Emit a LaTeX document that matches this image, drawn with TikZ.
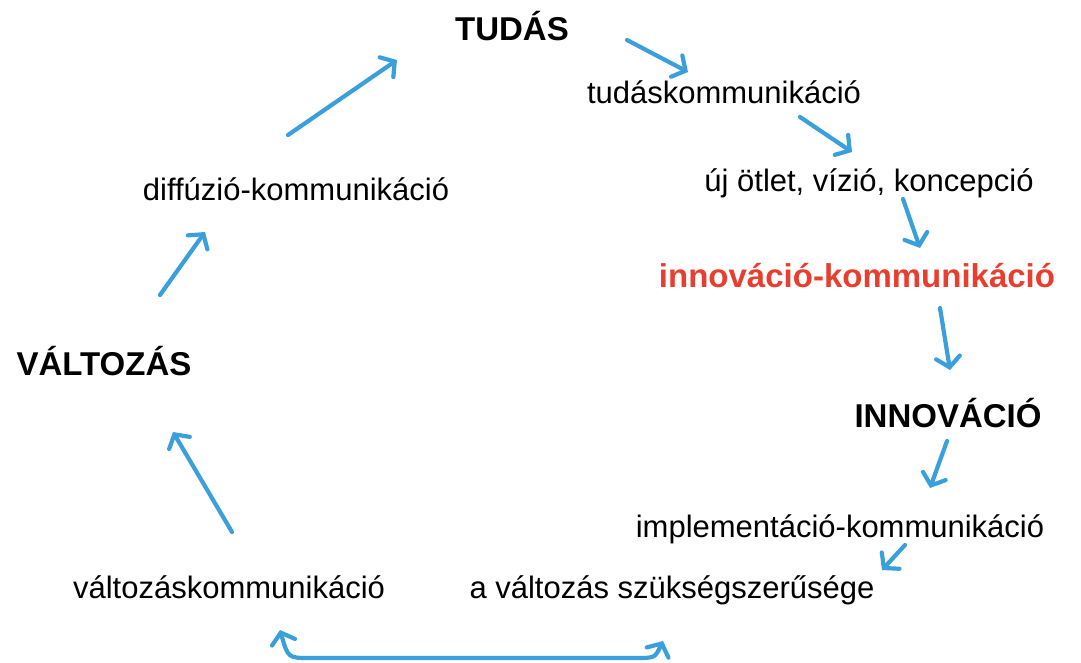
\documentclass[tikz,border=0pt]{standalone}
\usepackage{fontspec}
\setmainfont{Liberation Sans}
\usepackage{xcolor}
\usetikzlibrary{arrows.meta}

\definecolor{arrowblue}{RGB}{58,160,220}
\definecolor{innored}{RGB}{232,62,48}

\begin{document}
\begin{tikzpicture}[
    x=1pt, y=-1pt,
    label text/.style={anchor=base, inner sep=0pt, font=\fontsize{31}{36}\selectfont},
    key text/.style={anchor=base, inner sep=0pt, font=\fontsize{33}{38}\selectfont\bfseries},
    flow/.style={draw=arrowblue, line width=4.2pt, line cap=round,
        -{Straight Barb[length=10pt, width=24pt, line cap=round]}},
    both flow/.style={draw=arrowblue, line width=4.2pt, line cap=round,
        {Straight Barb[length=10pt, width=24pt, line cap=round]}-{Straight Barb[length=10pt, width=24pt, line cap=round]}}
]
\useasboundingbox (0,0) rectangle (1081,662);

\node[key text] (tudas) at (512,40) {TUDÁS};
\node[label text] (tudaskomm) at (724,103) {tudáskommunikáció};
\node[label text] (otlet) at (869,191) {új ötlet, vízió, koncepció};
\node[key text, text=innored] (innokomm) at (857,287) {innováció-kommunikáció};
\node[key text] (innovacio) at (948,427) {INNOVÁCIÓ};
\node[label text] (implkomm) at (840,537) {implementáció-kommunikáció};
\node[label text] (szukseg) at (672,598) {a változás szükségszerűsége};
\node[label text] (valtkomm) at (229,598) {változáskommunikáció};
\node[key text] (valtozas) at (104,375) {VÁLTOZÁS};
\node[label text] (diffkomm) at (296,200) {diffúzió-kommunikáció};

% arrow ends
\coordinate (a1) at (627,40);  \coordinate (b1) at (688,72);
\coordinate (a2) at (800,117); \coordinate (b2) at (852,152);
\coordinate (a3) at (903,199); \coordinate (b3) at (920,248);
\coordinate (a4) at (940,308); \coordinate (b4) at (950,370);
\coordinate (a5) at (947,441); \coordinate (b5) at (930,488);
\coordinate (a6) at (905,545); \coordinate (b6) at (882,570);
\coordinate (a7) at (232,532); \coordinate (b7) at (173,432);
\coordinate (a8) at (160,295); \coordinate (b8) at (205,232);
\coordinate (a9) at (288,135); \coordinate (b9) at (397,60);
\coordinate (left end) at (280,630);
\coordinate (right end) at (663,641);

\draw[flow] (a1) -- (b1);
\draw[flow] (a2) -- (b2);
\draw[flow] (a3) -- (b3);
\draw[flow] (a4) -- (b4);
\draw[flow] (a5) -- (b5);
\draw[flow] (a6) -- (b6);
\draw[flow] (a7) -- (b7);
\draw[flow] (a8) -- (b8);
\draw[flow] (a9) -- (b9);
\draw[both flow] (left end) .. controls (288,658) .. (310,658)
    -- (635,658) .. controls (655,658) .. (right end);
\end{tikzpicture}
\end{document}
